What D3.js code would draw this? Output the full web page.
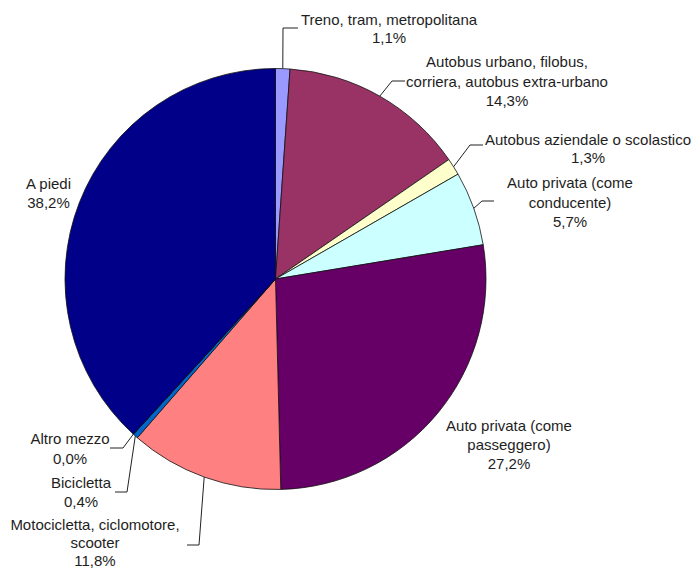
<!DOCTYPE html>
<html>
<head>
<meta charset="utf-8">
<script src="https://cdn.jsdelivr.net/npm/d3@7"></script>
<style>
  html, body { margin: 0; padding: 0; background: #ffffff; }
  svg { display: block; }
  text { font-family: "Liberation Sans", Arial, sans-serif; font-size: 15px; fill: #1e1e1e; }
</style>
</head>
<body>
<svg id="chart" width="693" height="571"></svg>
<script>
// Modal split: mezzo di trasporto utilizzato (quote percentuali)
const categories = [
  "Treno, tram, metropolitana",
  "Autobus urbano, filobus,\ncorriera, autobus extra-urbano",
  "Autobus aziendale o scolastico",
  "Auto privata (come\nconducente)",
  "Auto privata (come\npasseggero)",
  "Motocicletta, ciclomotore,\nscooter",
  "Bicicletta",
  "Altro mezzo",
  "A piedi"
];
const shares = [1.1, 14.3, 1.3, 5.7, 27.2, 11.8, 0.4, 0.0, 38.2];
const colors = ["#9999ff", "#993366", "#ffffcc", "#ccffff", "#660066", "#ff8080", "#0066cc", "#ccccff", "#000088"];

// Label placement: centre x, first baseline, line step, and leader-line elbow/end (null = no leader)
const labelLayout = [
  { x: 389, y: 25,  step: 18,   elbow: [283, 28],  end: [298, 28] },
  { x: 507, y: 67,  step: 19.5, elbow: [392, 81],  end: [405, 81] },
  { x: 588, y: 145, step: 18,   elbow: [470, 145], end: [483, 145] },
  { x: 570, y: 188, step: 19.5, elbow: [482, 201], end: [494, 201] },
  { x: 509, y: 431, step: 19,   elbow: null,       end: null },
  { x: 95,  y: 530, step: 18,   elbow: [199, 545], end: [187, 545] },
  { x: 81,  y: 488, step: 19,   elbow: [127, 492], end: [115, 492] },
  { x: 70,  y: 444, step: 19.5, elbow: [123, 448], end: [110, 448] },
  { x: 48.5,y: 189, step: 18.5, elbow: null,       end: null }
];

const svg = d3.select("#chart");
const cx = 275.5, cy = 279, radius = 210.5;

const it = d3.formatLocale({ decimal: ",", thousands: ".", grouping: [3], currency: ["€", ""] });
const fmtPct = v => it.format(".1f")(v) + "%";

const pie = d3.pie().sort(null).value(d => d.value).startAngle(0).endAngle(2 * Math.PI);
const arc = d3.arc().innerRadius(0).outerRadius(radius);

const data = categories.map((c, i) => ({ name: c, value: shares[i], color: colors[i], layout: labelLayout[i] }));
const arcs = pie(data);

const g = svg.append("g").attr("transform", `translate(${cx},${cy})`);

g.selectAll("path.slice")
  .data(arcs)
  .enter().append("path")
  .attr("class", "slice")
  .attr("d", arc)
  .attr("fill", d => d.data.color)
  .attr("stroke", "#111")
  .attr("stroke-width", 0.8)
  .attr("stroke-linejoin", "round");

// leader lines from the slice rim to the label
arcs.forEach(d => {
  const L = d.data.layout;
  if (!L.elbow) return;
  const mid = (d.startAngle + d.endAngle) / 2;
  const px = cx + radius * Math.sin(mid);
  const py = cy - radius * Math.cos(mid);
  svg.append("polyline")
    .attr("points", [[px, py], L.elbow, L.end].map(p => p.join(",")).join(" "))
    .attr("fill", "none")
    .attr("stroke", "#222")
    .attr("stroke-width", 1);
});

// labels: category lines followed by the percentage
arcs.forEach(d => {
  const L = d.data.layout;
  const lines = d.data.name.split("\n").concat([fmtPct(d.data.value)]);
  const t = svg.append("text").attr("text-anchor", "middle");
  lines.forEach((ln, k) => {
    t.append("tspan").attr("x", L.x).attr("y", L.y + k * L.step).text(ln);
  });
});
</script>
</body>
</html>
